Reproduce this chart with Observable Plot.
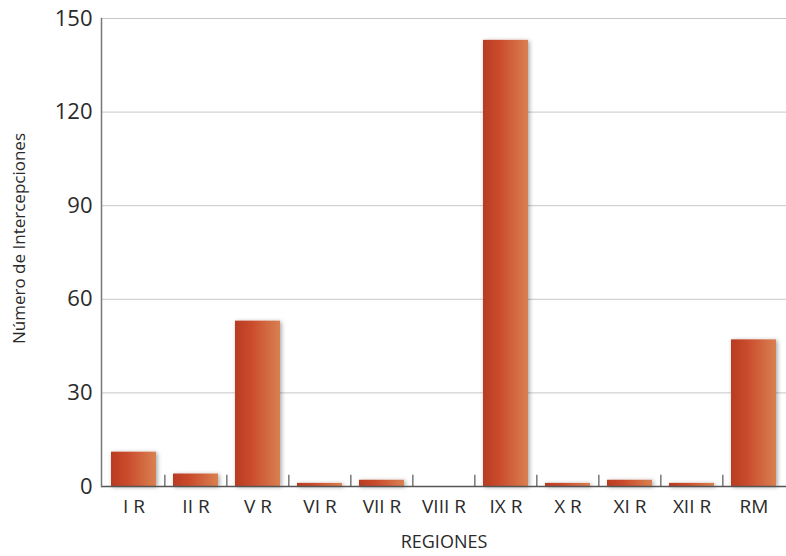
<!DOCTYPE html>
<html>
<head>
<meta charset="utf-8">
<script src="https://cdn.jsdelivr.net/npm/d3@7"></script>
<script src="https://cdn.jsdelivr.net/npm/@observablehq/plot@0.6"></script>
<style>
  html, body { margin: 0; padding: 0; background: #fff; }
  svg { font-family: "Open Sans", "Noto Sans", sans-serif; }
</style>
</head>
<body>
<div id="chart"></div>
<script>
const regions = ["I R", "II R", "V R", "VI R", "VII R", "VIII R", "IX R", "X R", "XI R", "XII R", "RM"];
const counts = [11, 4, 53, 1, 2, 0, 143, 1, 2, 1, 47];
const yTicks = [0, 30, 60, 90, 120, 150];
const xTitle = "REGIONES";
const yTitle = "Número de Intercepciones";

const data = regions.map((r, i) => ({region: r, count: counts[i]}));
const step = (786 - 101) / regions.length;

const svg = Plot.plot({
  width: 786,
  height: 556,
  marginLeft: 101,
  marginRight: 0,
  marginTop: 18,
  marginBottom: 70,
  style: {background: "#fff", color: "#2a2a2a", fontFamily: "'Open Sans', 'Noto Sans', sans-serif"},
  x: {domain: regions, paddingInner: 0.27, paddingOuter: 0.135, label: null},
  y: {domain: [0, 150], label: null},
  marks: [
    Plot.ruleY(yTicks.slice(1), {stroke: "#c8c8c8", strokeWidth: 1}),
    Plot.barY(data, {x: "region", y: "count", fill: "url(#barGrad)"}),
    Plot.ruleY([0], {stroke: "#555", strokeWidth: 1.5}),
    Plot.frame({anchor: "left", stroke: "#777", strokeWidth: 1.5}),
    Plot.ruleX(regions.slice(1), {x: d => d, y1: 0, y2: 3.6, dx: -step / 2, stroke: "#555", strokeWidth: 1.2}),
    Plot.axisY({ticks: yTicks, tickSize: 0, tickPadding: 9, fontSize: 22, label: null, tickFormat: d => d}),
    Plot.axisX({tickSize: 0, tickPadding: 13, fontSize: 19, label: null}),
    Plot.text([xTitle], {frameAnchor: "bottom", dy: 61, fontSize: 18, fill: "#2a2a2a"}),
    Plot.text([yTitle], {frameAnchor: "left", textAnchor: "middle", rotate: -90, dx: -82, dy: -14, fontSize: 17, fill: "#2a2a2a"})
  ]
});

const s = d3.select(svg);
const defs = s.insert("defs", ":first-child");
const g = defs.append("linearGradient").attr("id", "barGrad").attr("x1", "0").attr("x2", "1").attr("y1", "0").attr("y2", "0");
g.append("stop").attr("offset", "0%").attr("stop-color", "#b83c22");
g.append("stop").attr("offset", "35%").attr("stop-color", "#c94a2c");
g.append("stop").attr("offset", "100%").attr("stop-color", "#d98050");
const f = defs.append("filter").attr("id", "shadow").attr("x", "-20%").attr("y", "-5%").attr("width", "140%").attr("height", "110%");
f.append("feDropShadow").attr("dx", 1.5).attr("dy", 1).attr("stdDeviation", 2).attr("flood-color", "#000").attr("flood-opacity", 0.35);
s.selectAll("g[aria-label='bar']").attr("filter", "url(#shadow)");

document.getElementById("chart").appendChild(svg);
</script>
</body>
</html>
